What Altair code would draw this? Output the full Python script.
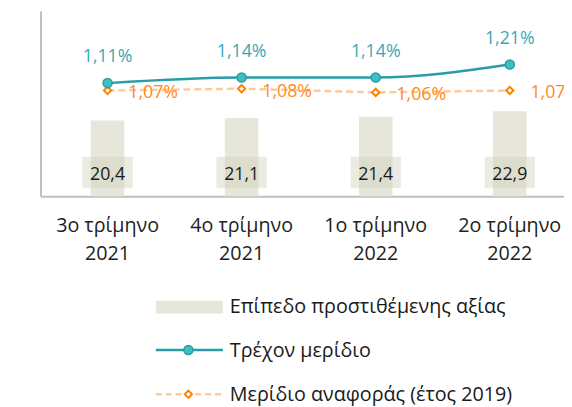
import altair as alt
import pandas as pd

quarters = ["3ο τρίμηνο\n2021", "4ο τρίμηνο\n2021", "1ο τρίμηνο\n2022", "2ο τρίμηνο\n2022"]
value_added = [20.4, 21.1, 21.4, 22.9]
current_share = [1.11, 1.14, 1.14, 1.21]
reference_share = [1.07, 1.08, 1.06, 1.07]

legend_labels = ["Επίπεδο προστιθέμενης αξίας", "Τρέχον μερίδιο", "Μερίδιο αναφοράς (έτος 2019)"]

FONT = "Open Sans"
BAR = "#e6e6da"
TEAL = "#2a9ca6"
TEAL_FILL = "#3cc0c4"
TEAL_TEXT = "#3aa8b4"
ORANGE = "#ff8000"
ORANGE_LIGHT = "#ffc999"
ORANGE_TEXT = "#ff8a1e"

df = pd.DataFrame({
    "quarter": quarters,
    "va": value_added,
    "cur": current_share,
    "ref": reference_share,
})

base = alt.Chart(df)
xs = alt.Scale(domain=quarters, paddingInner=0, paddingOuter=0)
x_enc = alt.X("quarter:N", sort=quarters, scale=xs, title=None,
              axis=alt.Axis(labelExpr="split(datum.label, '\\n')", labelAngle=0,
                            ticks=False, labelPadding=20, labelLineHeight=28,
                            labelFontSize=20, labelFont=FONT, labelColor="#222222",
                            domainColor="#bfbfbf", domainWidth=2, grid=False))

bars = base.mark_bar(size=34, color=BAR).encode(
    x=x_enc,
    y=alt.Y("va:Q", scale=alt.Scale(domain=[0, 50]), title=None,
            axis=alt.Axis(labels=False, ticks=False, grid=False,
                          domainColor="#bfbfbf", domainWidth=2)),
)

boxes = base.mark_bar(size=51, color="#d2d2bc", opacity=0.45).encode(
    x=x_enc, y=alt.value(148), y2=alt.value(180)
)

bar_text = base.transform_calculate(
    lab="replace(format(datum.va, '.1f'), '.', ',')"
).mark_text(font=FONT, fontSize=18, color="#1a1a1a", baseline="middle").encode(
    x=x_enc, y=alt.value(167), text="lab:N"
)

ys = alt.Scale(domain=[0.5, 1.5])

cur_line = base.mark_line(color=TEAL, strokeWidth=2.5, interpolate="monotone").encode(
    x=x_enc, y=alt.Y("cur:Q", scale=ys, axis=None)
)
cur_pts = base.mark_point(shape="circle", filled=True, size=85, fill=TEAL_FILL,
                          stroke=TEAL, strokeWidth=1.5, opacity=1).encode(
    x=x_enc, y=alt.Y("cur:Q", scale=ys, axis=None)
)
cur_text = base.transform_calculate(
    lab="replace(format(datum.cur, '.2f'), '.', ',') + '%'"
).mark_text(font=FONT, fontSize=18, color=TEAL_TEXT, dy=-26).encode(
    x=x_enc, y=alt.Y("cur:Q", scale=ys, axis=None), text="lab:N"
)

ref_line = base.mark_line(color=ORANGE_LIGHT, strokeWidth=2.5, strokeDash=[7, 4]).encode(
    x=x_enc, y=alt.Y("ref:Q", scale=ys, axis=None)
)
ref_pts = base.mark_point(shape="diamond", filled=False, size=55, fill="white",
                          stroke=ORANGE, strokeWidth=2, opacity=1).encode(
    x=x_enc, y=alt.Y("ref:Q", scale=ys, axis=None)
)
ref_text = base.transform_calculate(
    lab="replace(format(datum.ref, '.2f'), '.', ',') + '%'"
).mark_text(font=FONT, fontSize=18, color=ORANGE_TEXT, align="left", dx=21, dy=3).encode(
    x=x_enc, y=alt.Y("ref:Q", scale=ys, axis=None), text="lab:N"
)

# legend (layout element)
leg = pd.DataFrame({"label": legend_labels, "row": [0, 1, 2]})
lb = alt.Chart(leg)
leg_rect = lb.transform_filter("datum.row == 0").mark_rect(color=BAR).encode(
    x=alt.value(117), x2=alt.value(185), y=alt.value(294), y2=alt.value(307))
leg_cur = lb.transform_filter("datum.row == 1").mark_rule(color=TEAL, strokeWidth=2.5).encode(
    x=alt.value(117), x2=alt.value(185), y=alt.value(344))
leg_cur_pt = lb.transform_filter("datum.row == 1").mark_point(
    shape="circle", filled=True, size=85, fill=TEAL_FILL, stroke=TEAL, strokeWidth=1.5, opacity=1
).encode(x=alt.value(150), y=alt.value(344))
leg_ref = lb.transform_filter("datum.row == 2").mark_rule(
    color=ORANGE_LIGHT, strokeWidth=2.5, strokeDash=[6, 4]).encode(
    x=alt.value(117), x2=alt.value(185), y=alt.value(389))
leg_ref_pt = lb.transform_filter("datum.row == 2").mark_point(
    shape="diamond", filled=False, size=55, fill="white", stroke=ORANGE, strokeWidth=2, opacity=1
).encode(x=alt.value(150), y=alt.value(389))
leg_text = lb.transform_calculate(yy="301 + datum.row * 44.5").mark_text(
    font=FONT, fontSize=20, color="#1a1a1a", align="left", baseline="middle"
).encode(x=alt.value(192), y=alt.Y("yy:Q", scale=None, axis=None), text="label:N")

chart = alt.layer(
    bars, boxes, bar_text,
    ref_line, ref_pts, ref_text,
    cur_line, cur_pts, cur_text,
    leg_rect, leg_cur, leg_cur_pt, leg_ref, leg_ref_pt, leg_text,
).resolve_scale(y="independent").properties(
    width=544, height=188,
    autosize=alt.AutoSizeParams(type="none"),
    padding={"left": 33, "top": 0, "right": -13, "bottom": 211},
).configure_view(stroke=None)

chart.save("out.html", embed_options={"renderer": "svg", "actions": False})
